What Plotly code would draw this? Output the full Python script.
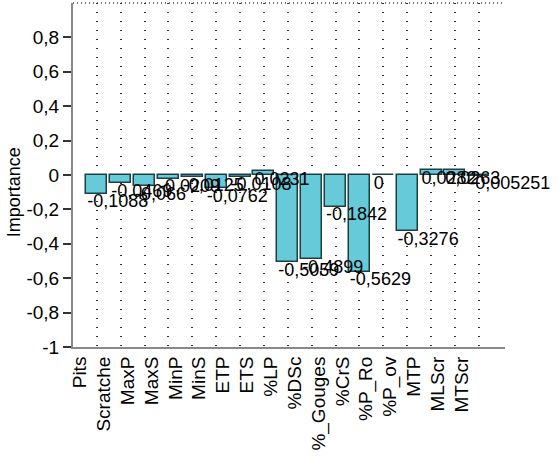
import plotly.graph_objects as go

categories = ["Pits", "Scratche", "MaxP", "MaxS", "MinP", "MinS", "ETP", "ETS", "%LP",
              "%DSc", "%_Gouges", "%CrS", "%P_Ro", "%P_ov", "MTP", "MLScr", "MTScr"]
importance = [-0.1088, -0.0469, -0.0660, -0.0209, -0.0125, -0.0762, -0.0108, 0.0231, -0.5059,
              -0.4899, -0.1842, -0.5629, 0.0, -0.3276, 0.0282, 0.0263, -0.005251]
y_ticks = [-1, -0.8, -0.6, -0.4, -0.2, 0, 0.2, 0.4, 0.6, 0.8]
y_ticktext = ["-1", "-0,8", "-0,6", "-0,4", "-0,2", "0", "0,2", "0,4", "0,6", "0,8"]

FONT = "Liberation Sans, Arial, sans-serif"
idx = list(range(len(categories)))
labels = [("%g" % v).replace(".", ",") for v in importance]

fig = go.Figure()
fig.add_trace(go.Bar(
    x=idx, y=importance, width=0.88,
    marker=dict(color="#66CAD8", line=dict(color="#1d3f44", width=1.5)),
    showlegend=False, hoverinfo="skip",
))
fig.add_trace(go.Scatter(
    x=[i - 0.4 for i in idx], y=importance, mode="text", text=labels,
    textposition="bottom right", textfont=dict(family=FONT, size=18, color="#000"),
    showlegend=False, hoverinfo="skip", cliponaxis=False,
))

fig.update_layout(
    width=559, height=458,
    margin=dict(l=73, r=54, t=3, b=111, autoexpand=False),
    paper_bgcolor="white", plot_bgcolor="white",
    font=dict(family=FONT, color="#000"),
    bargap=0,
    shapes=[dict(type="line", xref="paper", yref="paper", x0=0, x1=1, y0=1, y1=1,
                 line=dict(color="#444", width=1.5, dash="1px,3px"))],
    annotations=[dict(text="Importance", xref="paper", yref="y", x=0, y=-0.1,
                      xanchor="right", yanchor="middle", xshift=-47, textangle=-90,
                      showarrow=False, font=dict(family=FONT, size=18, color="#000"))],
)
fig.update_xaxes(
    range=[-1, 17.1], automargin=False,
    tickmode="array", tickvals=idx, ticktext=categories,
    tickangle=-90, tickfont=dict(family=FONT, size=19, color="#000"),
    ticklabelshift=-17,
    showgrid=True, gridcolor="#333", griddash="1px,8px", gridwidth=1.5,
    showline=True, linecolor="#888", linewidth=2,
    ticks="", zeroline=False,
)
fig.update_yaxes(
    range=[-1, 1], automargin=False,
    tickmode="array", tickvals=y_ticks, ticktext=y_ticktext,
    tickfont=dict(family=FONT, size=19, color="#000"),
    ticks="outside", ticklen=8, tickcolor="#333", tickwidth=1.5,
    showgrid=False, zeroline=False,
    showline=True, linecolor="#888", linewidth=2,
)

fig.write_html("out.html", config={"displayModeBar": False},
               post_script="document.body.style.margin='0';")
